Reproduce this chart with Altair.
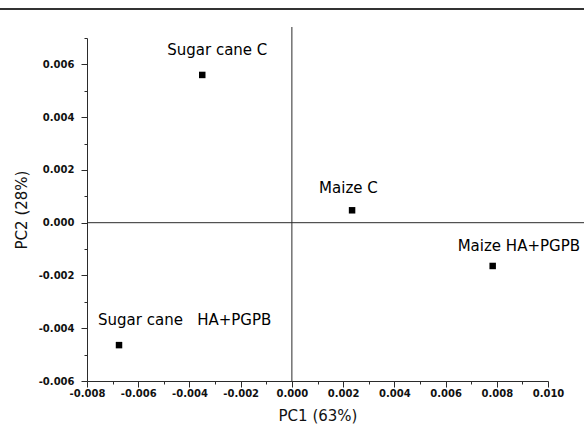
import altair as alt
import pandas as pd

# ---- data ----
samples = ["Sugar cane C", "Maize C", "Maize HA+PGPB", "Sugar cane HA+PGPB"]
pc1 = [-0.0035, 0.00235, 0.00784, -0.00675]
pc2 = [0.0056, 0.00047, -0.00164, -0.00464]
labels = ["Sugar cane C", "Maize C", "Maize HA+PGPB", "Sugar cane\u00a0\u00a0\u00a0HA+PGPB"]

x_ticks = [-0.008, -0.007, -0.006, -0.005, -0.004, -0.003, -0.002, -0.001, 0.0,
           0.001, 0.002, 0.003, 0.004, 0.005, 0.006, 0.007, 0.008, 0.009, 0.010]
y_ticks = [-0.006, -0.005, -0.004, -0.003, -0.002, -0.001, 0.0,
           0.001, 0.002, 0.003, 0.004, 0.005, 0.006, 0.007]

df = pd.DataFrame({"sample": samples, "pc1": pc1, "pc2": pc2, "label": labels})
one = pd.DataFrame({"z": [0]})

FONT = "DejaVu Sans"
AX = "#2b2b2b"
W, H = 461, 343

major = "round(datum.value*1000) % 2 === 0"
lab = ("round(datum.value*1000) % 2 === 0 ? "
       "(datum.value < -0.0000001 ? '-' : '') + format(abs(datum.value), '.3f') : ''")

xscale = alt.Scale(domain=[-0.008, 0.010], nice=False, zero=False)
yscale = alt.Scale(domain=[-0.006, 0.007], nice=False, zero=False)

common_axis = dict(
    grid=False, domainColor=AX, domainWidth=1, tickColor=AX, tickWidth=1,
    tickSize={"condition": {"test": major, "value": 6}, "value": 3},
    labelExpr=lab, labelFont=FONT, labelFontSize=10, labelFontWeight="bold",
    labelColor="#111", labelOverlap=False, labelFlush=False, labelBound=False,
    titleFont=FONT, titleFontSize=15, titleFontWeight="normal", titleColor="#111",
)

xaxis = alt.Axis(values=x_ticks, title="PC1 (63%)", labelPadding=1,
                 titlePadding=10, **common_axis)
yaxis = alt.Axis(values=y_ticks, title="PC2 (28%)", labelPadding=7,
                 titlePadding=9, **common_axis)

base = alt.Chart(df)

points = base.mark_square(size=42, color="#000", opacity=1).encode(
    x=alt.X("pc1:Q", scale=xscale, axis=xaxis),
    y=alt.Y("pc2:Q", scale=yscale, axis=yaxis),
)

offsets = {
    "Sugar cane C": (-35, -19.5),
    "Maize C": (-33, -17),
    "Maize HA+PGPB": (-35, -15),
    "Sugar cane HA+PGPB": (-21, -20),
}
texts = []
for s, (dx, dy) in offsets.items():
    texts.append(
        base.transform_filter(alt.datum.sample == s)
        .mark_text(align="left", baseline="alphabetic", dx=dx, dy=dy,
                   font=FONT, fontSize=15, color="#000")
        .encode(x=alt.X("pc1:Q", scale=xscale, axis=xaxis),
                y=alt.Y("pc2:Q", scale=yscale, axis=yaxis),
                text="label:N")
    )

vline = alt.Chart(one).mark_rule(color=AX, strokeWidth=1).encode(
    x=alt.XDatum(0, type="quantitative", scale=xscale, axis=xaxis),
    y=alt.value(-11), y2=alt.value(H),
)
hline = alt.Chart(one).mark_rule(color=AX, strokeWidth=1).encode(
    y=alt.YDatum(0, type="quantitative", scale=yscale, axis=yaxis),
    x=alt.value(0), x2=alt.value(584 - 87),
)
topline = alt.Chart(one).mark_rule(color="#333", strokeWidth=2).encode(
    y=alt.value(-29), x=alt.value(-87), x2=alt.value(584 - 87),
)

chart = alt.layer(points, vline, hline, topline, *texts).properties(
    width=W, height=H,
    autosize=alt.AutoSizeParams(type="none"),
    padding={"left": 87, "top": 38, "right": 584 - 87 - W, "bottom": 433 - 38 - H},
    background="white",
).configure_view(stroke=None)

chart.save("out.html", embed_options={"renderer": "svg", "actions": False})
